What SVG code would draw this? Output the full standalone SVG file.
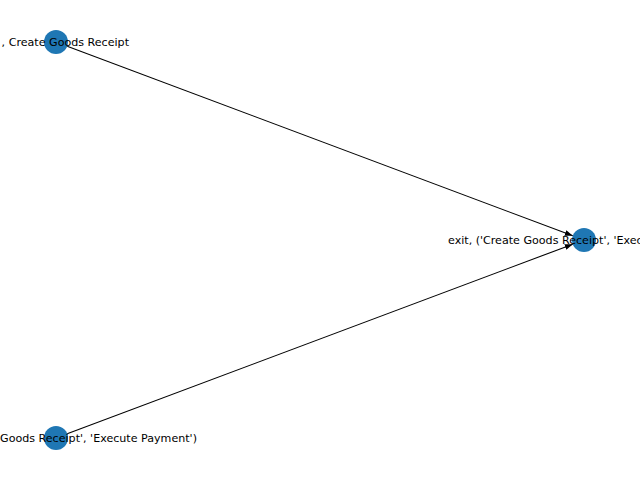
<svg xmlns="http://www.w3.org/2000/svg" width="640" height="480" viewBox="0 0 640 480">
  <style>
    .node { fill: #1f77b4; }
    .edge { stroke: #000; stroke-width: 1.1; fill: none; }
    .label { font-family: "DejaVu Sans", sans-serif; font-size: 11.1px; fill: #000; dominant-baseline: central; }
  </style>
  <defs>
    <marker id="arrow" viewBox="0 0 8 6" refX="8" refY="3" markerWidth="8" markerHeight="6" markerUnits="userSpaceOnUse" orient="auto">
      <path d="M0,0 L8,3 L0,6 Z" fill="#000"/>
    </marker>
  </defs>
  <rect width="640" height="480" fill="#fff"/>

  <!-- transitions into the exit state -->
  <g id="edges">
    <line class="edge" x1="67.2" y1="46.2" x2="572.8" y2="235.8" marker-end="url(#arrow)"/>
    <line class="edge" x1="67.2" y1="433.8" x2="572.8" y2="244.2" marker-end="url(#arrow)"/>
  </g>

  <g id="node-create-goods-receipt">
    <circle class="node" cx="56" cy="42" r="12"/>
    <text class="label" x="129" y="42" text-anchor="end">, Create Goods Receipt</text>
  </g>

  <g id="node-exit">
    <circle class="node" cx="584" cy="240" r="12"/>
    <text class="label" x="448" y="240" text-anchor="start">exit, ('Create Goods Receipt', 'Execute Payment')</text>
  </g>

  <g id="node-execute-payment">
    <circle class="node" cx="56" cy="438" r="12"/>
    <text class="label" x="197" y="438" text-anchor="end">Goods Receipt', 'Execute Payment')</text>
  </g>
</svg>
